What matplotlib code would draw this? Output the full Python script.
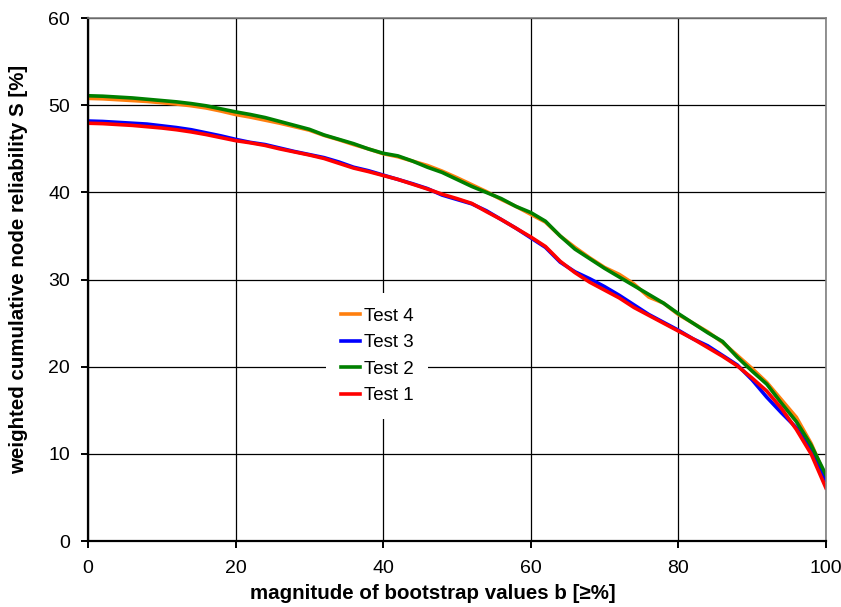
import matplotlib
matplotlib.use("Agg")
import matplotlib.pyplot as plt

plt.rcParams['font.family'] = ['Liberation Sans', 'DejaVu Sans']

# bootstrap threshold b [>=%]
b = list(range(0, 101, 2))

test4 = [50.8, 50.75, 50.65, 50.55, 50.45, 50.3, 50.15, 49.95, 49.7, 49.35,
         48.95, 48.65, 48.3, 47.95, 47.55, 47.15, 46.55, 46.05, 45.5, 45.0,
         44.45, 44.1, 43.6, 43.1, 42.45, 41.7, 40.9, 40.1, 39.2, 38.4,
         37.5, 36.6, 35.0, 33.7, 32.5, 31.4, 30.6, 29.5, 28.0, 27.3,
         26.0, 25.0, 24.0, 22.8, 21.3, 19.8, 18.2, 16.2, 14.2, 11.2, 7.3]
test3 = [48.2, 48.15, 48.05, 47.95, 47.85, 47.65, 47.45, 47.2, 46.85, 46.5,
         46.1, 45.75, 45.5, 45.1, 44.7, 44.35, 44.0, 43.5, 42.9, 42.5,
         42.0, 41.5, 41.0, 40.45, 39.7, 39.2, 38.7, 37.9, 36.9, 35.9,
         34.8, 33.7, 32.0, 30.9, 30.1, 29.2, 28.2, 27.1, 26.0, 25.1,
         24.2, 23.2, 22.4, 21.3, 20.2, 18.5, 16.5, 14.7, 13.0, 10.4, 7.0]
test2 = [51.1, 51.05, 50.95, 50.85, 50.7, 50.55, 50.4, 50.2, 49.95, 49.6,
         49.25, 48.95, 48.6, 48.15, 47.7, 47.25, 46.6, 46.1, 45.6, 45.0,
         44.5, 44.2, 43.6, 42.9, 42.3, 41.5, 40.7, 40.0, 39.3, 38.4,
         37.7, 36.7, 35.0, 33.5, 32.4, 31.3, 30.3, 29.3, 28.3, 27.3,
         26.1, 25.0, 23.9, 22.9, 21.1, 19.5, 18.0, 15.8, 13.7, 11.0, 7.6]
test1 = [47.95, 47.9, 47.8, 47.7, 47.55, 47.4, 47.2, 46.95, 46.65, 46.3,
         45.95, 45.7, 45.4, 45.0, 44.65, 44.3, 43.9, 43.35, 42.8, 42.4,
         41.95, 41.5, 40.95, 40.4, 39.8, 39.3, 38.75, 37.8, 36.9, 35.9,
         34.9, 33.8, 32.1, 30.8, 29.7, 28.8, 27.9, 26.8, 25.9, 25.0,
         24.1, 23.2, 22.2, 21.2, 20.1, 18.7, 17.2, 15.2, 12.8, 10.0, 6.1]

fig = plt.figure(figsize=(8.41, 6.07), dpi=100)
ax = fig.add_axes([0.1046, 0.1087, 0.8774, 0.8613])

ax.plot(b, test4, color='#FF7F0E', lw=2.6, label='Test 4')
ax.plot(b, test3, color='#0000FF', lw=2.6, label='Test 3')
ax.plot(b, test2, color='#008000', lw=2.6, label='Test 2')
ax.plot(b, test1, color='#FF0000', lw=2.6, label='Test 1')

ax.set_xlim(0, 100)
ax.set_ylim(0, 60)
ax.set_xticks(range(0, 101, 20))
ax.set_yticks(range(0, 61, 10))
ax.grid(True, color='black', lw=0.9)
ax.set_axisbelow(True)

for side in ['left', 'bottom']:
    ax.spines[side].set_color('black')
    ax.spines[side].set_linewidth(1.6)
for side in ['top', 'right']:
    ax.spines[side].set_color('#808080')
    ax.spines[side].set_linewidth(1.2)

ax.tick_params(direction='out', length=5, width=1.4, labelsize=14)
ax.tick_params(axis='x', pad=9)
ax.tick_params(axis='y', pad=8)

ax.set_xlabel('magnitude of bootstrap values b [≥%]', fontsize=14.8, fontweight='bold')
ax.set_ylabel('weighted cumulative node reliability S [%]', fontsize=14.8, fontweight='bold')
# axis titles sit a little off-centre
ax.xaxis.set_label_coords(0.4675, -0.083)
ax.yaxis.set_label_coords(-0.081, 0.52)

leg = ax.legend(loc='center', bbox_to_anchor=(0.392, 0.354), frameon=True, handlelength=1.0,
                handletextpad=0.2, labelspacing=0.5, fontsize=13.5, borderpad=0.8)
leg.get_frame().set_facecolor('white')
leg.get_frame().set_edgecolor('none')
leg.get_frame().set_alpha(1)

fig.savefig('out.png', dpi=100)
